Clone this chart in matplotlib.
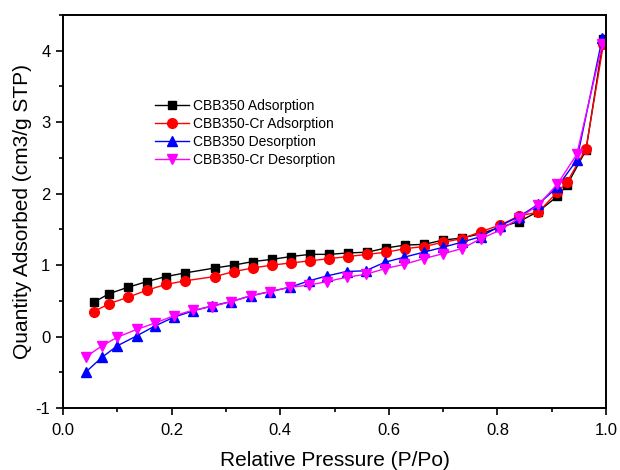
import matplotlib
matplotlib.use("Agg")
import matplotlib.pyplot as plt
from matplotlib.ticker import MultipleLocator

plt.rcParams['font.family'] = ['Liberation Sans', 'DejaVu Sans']

ads_x = [0.057, 0.085, 0.12, 0.155, 0.19, 0.225, 0.28, 0.315, 0.35, 0.385, 0.42,
         0.455, 0.49, 0.525, 0.56, 0.595, 0.63, 0.665, 0.70, 0.735, 0.77, 0.805,
         0.84, 0.875, 0.91, 0.928, 0.963, 0.995]
cbb_ads = [0.48, 0.60, 0.69, 0.77, 0.84, 0.89, 0.96, 1.00, 1.05, 1.08, 1.12,
           1.15, 1.15, 1.17, 1.18, 1.24, 1.28, 1.29, 1.35, 1.38, 1.44, 1.53,
           1.61, 1.75, 1.96, 2.12, 2.61, 4.17]
cr_ads = [0.35, 0.46, 0.55, 0.65, 0.73, 0.78, 0.84, 0.91, 0.96, 1.00, 1.03,
          1.06, 1.09, 1.12, 1.15, 1.18, 1.23, 1.26, 1.32, 1.37, 1.47, 1.56,
          1.69, 1.74, 2.02, 2.16, 2.63, 4.09]

des_x = [0.043, 0.072, 0.10, 0.136, 0.17, 0.204, 0.24, 0.275, 0.31, 0.346, 0.382,
         0.418, 0.453, 0.487, 0.522, 0.557, 0.593, 0.628, 0.664, 0.70, 0.734,
         0.77, 0.805, 0.84, 0.875, 0.91, 0.946, 0.993]
cbb_des = [-0.49, -0.29, -0.13, 0.01, 0.15, 0.27, 0.36, 0.43, 0.49, 0.57, 0.63,
           0.69, 0.78, 0.85, 0.91, 0.92, 1.04, 1.11, 1.18, 1.25, 1.32,
           1.40, 1.55, 1.68, 1.85, 2.09, 2.47, 4.18]
cr_des = [-0.28, -0.13, -0.01, 0.10, 0.19, 0.29, 0.37, 0.42, 0.49, 0.57, 0.63,
          0.69, 0.72, 0.77, 0.83, 0.87, 0.95, 1.01, 1.09, 1.16, 1.23,
          1.37, 1.49, 1.66, 1.84, 2.13, 2.55, 4.09]

labels = ['CBB350 Adsorption', 'CBB350-Cr Adsorption',
          'CBB350 Desorption', 'CBB350-Cr Desorption']

fig = plt.figure(figsize=(6.2, 4.7), dpi=100)
ax = fig.add_axes([0.1016, 0.132, 0.876, 0.836])

ax.plot(ads_x, cbb_ads, color='black', marker='s', ms=6, lw=1, label=labels[0])
ax.plot(ads_x, cr_ads, color='red', marker='o', ms=7, lw=1, label=labels[1])
ax.plot(des_x, cbb_des, color='blue', marker='^', ms=7, lw=1, label=labels[2])
ax.plot(des_x, cr_des, color='magenta', marker='v', ms=7, lw=1, label=labels[3])

ax.set_xlim(0, 1.0)
ax.set_ylim(-1, 4.5)
ax.xaxis.set_major_locator(MultipleLocator(0.2))
ax.xaxis.set_minor_locator(MultipleLocator(0.1))
ax.yaxis.set_major_locator(MultipleLocator(1))
ax.yaxis.set_minor_locator(MultipleLocator(0.5))
ax.set_xticks([0.0, 0.2, 0.4, 0.6, 0.8, 1.0])
ax.set_xticklabels(['0.0', '0.2', '0.4', '0.6', '0.8', '1.0'])
ax.set_yticks([-1, 0, 1, 2, 3, 4])
ax.set_yticklabels(['-1', '0', '1', '2', '3', '4'])
ax.tick_params(which='major', direction='out', length=5, width=1.2, labelsize=12)
ax.tick_params(which='minor', direction='out', length=3, width=1.2)
ax.tick_params(axis='x', which='major', pad=6)
ax.tick_params(axis='y', which='major', pad=4)
for s in ax.spines.values():
    s.set_linewidth(1.4)

ax.set_xlabel('Relative Pressure (P/Po)', fontsize=15, labelpad=9)
ax.set_ylabel('Quantity Adsorbed (cm3/g STP)', fontsize=15, labelpad=3)

ax.legend(loc='upper left', bbox_to_anchor=(0.16, 0.80), frameon=False,
          fontsize=10, handlelength=2.4, handletextpad=0.3, labelspacing=0.28,
          borderaxespad=0)

fig.savefig('out.png', dpi=100)
